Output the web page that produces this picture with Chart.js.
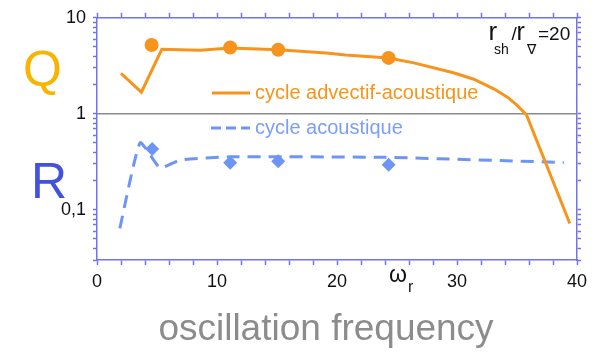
<!DOCTYPE html>
<html>
<head>
<meta charset="utf-8">
<script src="https://cdn.jsdelivr.net/npm/chart.js@4.4.1/dist/chart.umd.min.js"></script>
<style>
  html, body { margin: 0; padding: 0; background: #ffffff; }
  canvas { display: block; }
</style>
</head>
<body>
<canvas id="chart" width="599" height="355"></canvas>
<script>
// Q: advective-acoustic cycle efficiency versus oscillation frequency
const qLineOmega  = [2.0, 3.7, 5.4, 8.6, 11.1, 15.1, 19.1, 20.7, 24.3, 26.4, 29.7, 31.4, 33.1, 34.2, 35.0, 35.8, 39.4];
const qLineValues = [2.64, 1.68, 4.7, 4.6, 4.85, 4.65, 4.3, 4.1, 3.82, 3.39, 2.68, 2.29, 1.81, 1.49, 1.23, 0.97, 0.072];
const qPointOmega  = [4.55, 11.1, 15.1, 24.3];
const qPointValues = [5.2, 4.9, 4.64, 3.82];

// R: purely acoustic cycle efficiency
const rLineOmega  = [1.9, 3.6, 5.25, 6.9, 11.1, 24.0, 38.9];
const rLineValues = [0.064, 0.50, 0.273, 0.33, 0.356, 0.352, 0.311];
const rPointOmega  = [4.6, 11.1, 15.1, 24.3];
const rPointValues = [0.43, 0.31, 0.32, 0.295];

// Reference level Q = R = 1
const unityOmega  = [0, 40];
const unityValues = [1, 1];

// Axes
const xRange = [0, 40];
const xStep = 2;
const xLabelled = [0, 10, 20, 30, 40];
const yRange = [0.03, 10];
const yLabels = { '-1': '0,1', '0': '1', '1': '10' };

// Legend entries
const seriesNames = ['cycle advectif-acoustique', 'cycle acoustique'];

const ORANGE = '#f7941d';
const BLUE = '#6d95f6';
const AXIS = '#7272f0';
const FONT = '"Liberation Sans", Arial, Helvetica, sans-serif';

const pairs = (xs, ys) => xs.map((x, i) => ({ x, y: ys[i] }));

const annotations = {
  id: 'annotations',
  afterDraw(chart) {
    const ctx = chart.ctx;
    ctx.save();
    ctx.textBaseline = 'alphabetic';
    ctx.textAlign = 'left';

    // Big quantity letters on the left
    ctx.font = '50px ' + FONT;
    ctx.fillStyle = '#f8b400';
    ctx.fillText('Q', 23, 86);
    ctx.fillStyle = '#4352dc';
    ctx.fillText('R', 31, 198);

    // Legend
    ctx.lineWidth = 3;
    ctx.strokeStyle = ORANGE;
    ctx.setLineDash([]);
    ctx.beginPath(); ctx.moveTo(212, 93); ctx.lineTo(250, 93); ctx.stroke();
    ctx.strokeStyle = BLUE;
    ctx.setLineDash([10, 5]);
    ctx.beginPath(); ctx.moveTo(211, 128); ctx.lineTo(250, 128); ctx.stroke();
    ctx.setLineDash([]);
    ctx.font = '20px ' + FONT;
    ctx.fillStyle = ORANGE;
    ctx.fillText(seriesNames[0], 255, 99);
    ctx.fillStyle = '#7b9ef6';
    ctx.fillText(seriesNames[1], 255, 134);

    // Radius ratio annotation r_sh / r_nabla = 20
    ctx.fillStyle = '#111111';
    const put = (txt, x, y, size) => {
      ctx.font = size + 'px ' + FONT;
      ctx.fillText(txt, x, y);
    };
    put('r', 488.5, 40, 26);
    put('sh', 494, 54, 14);
    put('/', 511.5, 40, 19);
    put('r', 516.5, 40, 25);
    put('\u2207', 527, 54, 14);
    put('=20', 538, 40, 19);

    // Frequency symbol among the tick labels
    ctx.font = '23px ' + FONT;
    ctx.fillText('\u03c9', 389, 282);
    ctx.font = '16px ' + FONT;
    ctx.fillText('r', 408, 292);

    // Axis caption
    ctx.font = '37px ' + FONT;
    ctx.fillStyle = '#8c8c8c';
    ctx.textAlign = 'center';
    ctx.fillText('oscillation frequency', 326, 340);
    ctx.restore();
  }
};

const xAxis = (position, labels, height) => ({
  type: 'linear',
  position,
  min: xRange[0],
  max: xRange[1],
  afterFit: s => { s.height = height; },
  border: { color: AXIS, width: 1.5 },
  grid: { drawOnChartArea: false, drawTicks: true, tickLength: 5, tickColor: AXIS, tickWidth: 1.5 },
  ticks: {
    stepSize: xStep,
    autoSkip: false,
    maxRotation: 0,
    padding: 6,
    color: '#111111',
    font: { family: FONT, size: 18 },
    callback: v => (labels && xLabelled.includes(v)) ? String(v) : ''
  }
});

// keep only the 1..9 multiples of each decade on the log axes
const decadeTicks = s => {
  s.ticks = s.ticks.filter(t => {
    const m = t.value / Math.pow(10, Math.floor(Math.log10(t.value) + 1e-9));
    return Math.abs(m - Math.round(m)) < 1e-6;
  });
};

const yAxis = (position, labels, width) => ({
  type: 'logarithmic',
  position,
  min: yRange[0],
  max: yRange[1],
  afterBuildTicks: decadeTicks,
  afterFit: s => { s.width = width; },
  border: { color: AXIS, width: 1.5 },
  grid: { drawOnChartArea: false, drawTicks: true, tickLength: 4, tickColor: AXIS, tickWidth: 1.5 },
  ticks: {
    autoSkip: false,
    padding: 7,
    color: '#111111',
    font: { family: FONT, size: 18 },
    callback: v => {
      if (!labels) return '';
      const e = Math.log10(v);
      const r = Math.round(e);
      return Math.abs(e - r) < 1e-6 && yLabels[String(r)] !== undefined ? yLabels[String(r)] : '';
    }
  }
});

new Chart(document.getElementById('chart'), {
  type: 'scatter',
  data: {
    datasets: [
      {
        label: 'Q points',
        data: pairs(qPointOmega, qPointValues),
        pointStyle: 'circle',
        pointRadius: 7,
        backgroundColor: ORANGE,
        borderColor: ORANGE,
        borderWidth: 0,
        xAxisID: 'x', yAxisID: 'y'
      },
      {
        label: 'R points',
        data: pairs(rPointOmega, rPointValues),
        pointStyle: 'rectRot',
        pointRadius: 7,
        backgroundColor: BLUE,
        borderColor: BLUE,
        borderWidth: 0,
        xAxisID: 'x', yAxisID: 'y'
      },
      {
        label: seriesNames[0],
        data: pairs(qLineOmega, qLineValues),
        showLine: true,
        borderColor: ORANGE,
        borderWidth: 3,
        pointRadius: 0,
        tension: 0,
        xAxisID: 'x', yAxisID: 'y'
      },
      {
        label: seriesNames[1],
        data: pairs(rLineOmega, rLineValues),
        showLine: true,
        borderColor: BLUE,
        borderWidth: 3,
        borderDash: [13, 8],
        pointRadius: 0,
        tension: 0.15,
        xAxisID: 'x', yAxisID: 'y'
      },
      {
        label: 'unity',
        data: pairs(unityOmega, unityValues),
        showLine: true,
        borderColor: '#8a8a8a',
        borderWidth: 1.5,
        pointRadius: 0,
        xAxisID: 'x', yAxisID: 'y'
      }
    ]
  },
  options: {
    responsive: false,
    animation: false,
    devicePixelRatio: 1,
    layout: { padding: 0 },
    plugins: { legend: { display: false }, tooltip: { enabled: false } },
    scales: {
      x: xAxis('bottom', true, 95),
      x2: xAxis('top', false, 14),
      y: yAxis('left', true, 97),
      y2: yAxis('right', false, 22)
    }
  },
  plugins: [annotations]
});
</script>
</body>
</html>
